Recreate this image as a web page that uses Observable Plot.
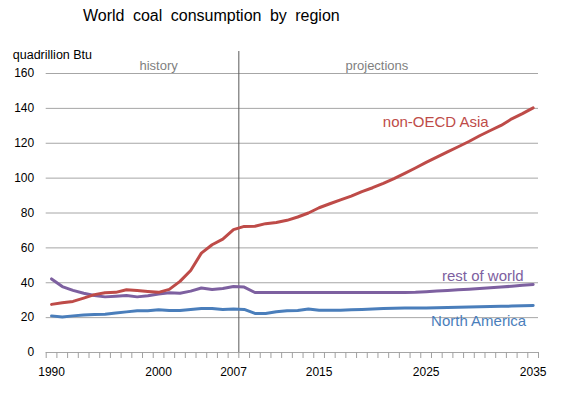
<!DOCTYPE html>
<html><head><meta charset="utf-8">
<script src="https://cdn.jsdelivr.net/npm/d3@7"></script>
<script src="https://cdn.jsdelivr.net/npm/@observablehq/plot@0.6"></script>
<style>
body{margin:0;background:#fff;font-family:"Liberation Sans",Arial,sans-serif;}
#wrap{width:571px;height:395px;position:relative;overflow:hidden;}
#title{height:38px;position:relative;}
#title span{position:absolute;left:83px;top:6px;font-size:16px;line-height:20px;word-spacing:4px;color:#000;white-space:nowrap;}
#chart svg{display:block;}
</style></head>
<body><div id="wrap"><div id="title"><span>World coal consumption by region</span></div><div id="chart"></div></div>
<script>
const years = d3.range(1990, 2036);
const nonOECDAsia = [27.6, 28.5, 29.3, 31.2, 33.2, 34.3, 34.5, 36.0, 35.5, 35.0,
  34.5, 36.2, 40.8, 47.0, 57.0, 61.8, 65.0, 70.5, 72.3, 72.4,
  73.9, 74.6, 75.8, 77.7, 80.0, 83.0, 85.3, 87.5, 89.7, 92.3,
  94.5, 97.0, 99.7, 102.7, 105.8, 109.0, 112.0, 115.0, 118.0, 121.0,
  124.3, 127.3, 130.2, 134.0, 137.0, 140.3];
const restOfWorld = [42.2, 37.8, 35.6, 34.0, 32.7, 31.9, 32.3, 32.7, 31.9, 32.5,
  33.6, 34.2, 34.0, 35.2, 37.0, 36.1, 36.7, 37.8, 37.5, 34.4,
  34.4, 34.4, 34.4, 34.4, 34.4, 34.4, 34.4, 34.4, 34.4, 34.4,
  34.4, 34.4, 34.4, 34.4, 34.5, 34.8, 35.2, 35.6, 36.0, 36.3,
  36.7, 37.1, 37.5, 38.0, 38.5, 39.0];
const northAmerica = [21.0, 20.4, 21.0, 21.5, 21.8, 21.9, 22.6, 23.3, 23.9, 24.0,
  24.5, 24.1, 24.1, 24.7, 25.3, 25.3, 24.7, 24.9, 24.7, 22.4,
  22.4, 23.4, 24.0, 24.1, 25.0, 24.2, 24.2, 24.2, 24.5, 24.7,
  25.0, 25.2, 25.4, 25.5, 25.5, 25.5, 25.6, 25.8, 26.0, 26.1,
  26.2, 26.4, 26.5, 26.6, 26.8, 27.0];
const seriesNames = ["North America", "rest of world", "non-OECD Asia"];
const seriesColors = ["#4a7ebb", "#7d60a0", "#be4b48"];
const labelYear = [2029.9, 2030.3, 2025.9];
const labelValue = [18.1, 43.6, 131.9];
const xTickLabels = [1990, 2000, 2007, 2015, 2025, 2035];
const yTicks = [0, 20, 40, 60, 80, 100, 120, 140, 160];
const phaseNames = ["history", "projections"];
const phaseYear = [2000, 2020.4];
const dividerYear = 2007.5;
const unitLabel = "quadrillion Btu";

const seriesValues = [northAmerica, restOfWorld, nonOECDAsia];
const rows = seriesNames.flatMap((s, j) => years.map((yr, i) => ({year: yr, value: seriesValues[j][i], series: s})));
const tickBounds = years.map(y => y - 0.5).concat([years[years.length - 1] + 0.5]);
const labels = seriesNames.map((s, j) => ({name: s, year: labelYear[j], value: labelValue[j]}));
const phases = phaseNames.map((p, i) => ({name: p, year: phaseYear[i], value: yTicks[yTicks.length - 1]}));

const chart = Plot.plot({
  width: 571, height: 357,
  marginTop: 35, marginBottom: 43, marginLeft: 45.7, marginRight: 33,
  style: {fontFamily: "'Liberation Sans', Arial, sans-serif", fontSize: "12px", color: "#000", background: "#fff", overflow: "visible"},
  x: {domain: [tickBounds[0], tickBounds[tickBounds.length - 1]]},
  y: {domain: [0, 160]},
  color: {domain: seriesNames, range: seriesColors},
  marks: [
    Plot.gridY(yTicks, {stroke: "#a6a6a6", strokeOpacity: 1}),
    Plot.axisY(yTicks, {tickSize: 0, tickPadding: 12, fill: "#000", label: null}),
    Plot.axisX(tickBounds, {tickSize: 6, tickFormat: () => "", stroke: "#a0a0a0", label: null}),
    Plot.axisX(xTickLabels, {tickSize: 0, tickPadding: 15, tickFormat: d => String(d), fill: "#000", label: null}),
    Plot.ruleX([dividerYear], {y1: 0, y2: 172.6, stroke: "#595959", strokeWidth: 1}),
    Plot.line(rows, {x: "year", y: "value", z: "series", stroke: "series", strokeWidth: 3}),
    Plot.text(labels, {x: "year", y: "value", text: "name", fill: d => d.name, fontSize: 15, lineAnchor: "middle", textAnchor: "middle"}),
    Plot.text(phases, {x: "year", y: "value", text: "name", fill: "#7f7f7f", fontSize: 13, lineAnchor: "bottom", dy: -4}),
    Plot.text([unitLabel], {frameAnchor: "top-left", text: d => d, textAnchor: "start", lineAnchor: "bottom", dx: -33.4, dy: -14.7, fontSize: 12.5, fill: "#000"})
  ]
});
// text fill uses color scale
document.getElementById("chart").appendChild(chart);
</script>
</body></html>
